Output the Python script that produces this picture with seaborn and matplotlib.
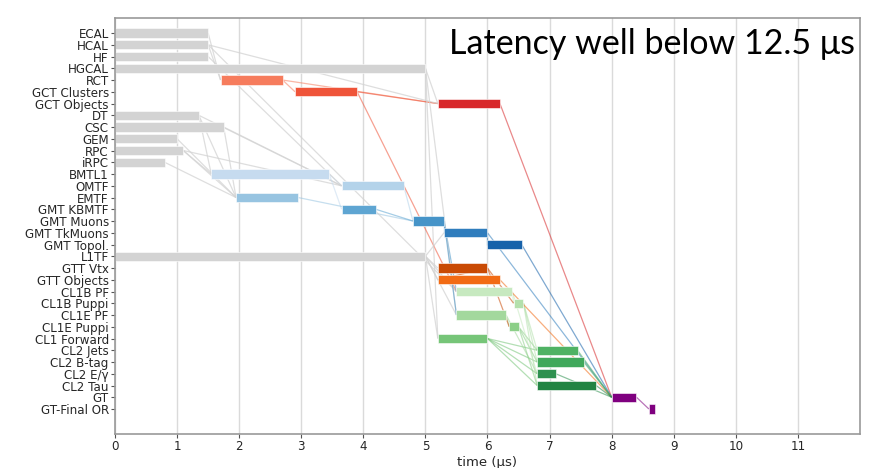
import matplotlib
matplotlib.use("Agg")
import matplotlib.pyplot as plt
import seaborn as sns

# Trigger processing stages (top to bottom) with start/end times in microseconds
stages = ["ECAL", "HCAL", "HF", "HGCAL", "RCT", "GCT Clusters", "GCT Objects",
          "DT", "CSC", "GEM", "RPC", "iRPC", "BMTL1", "OMTF", "EMTF",
          "GMT KBMTF", "GMT Muons", "GMT TkMuons", "GMT Topol.", "L1TF",
          "GTT Vtx", "GTT Objects", "CL1B PF", "CL1B Puppi", "CL1E PF",
          "CL1E Puppi", "CL1 Forward", "CL2 Jets", "CL2 B-tag", "CL2 E/γ",
          "CL2 Tau", "GT", "GT-Final OR"]
t_start = [0, 0, 0, 0, 1.7, 2.9, 5.2,
           0, 0, 0, 0, 0, 1.55, 3.65, 1.95,
           3.65, 4.8, 5.3, 6.0, 0,
           5.2, 5.2, 5.5, 6.42, 5.5,
           6.35, 5.2, 6.8, 6.8, 6.8,
           6.8, 8.0, 8.6]
t_end = [1.5, 1.5, 1.5, 5.0, 2.7, 3.9, 6.2,
         1.35, 1.75, 1.0, 1.1, 0.8, 3.45, 4.65, 2.95,
         4.2, 5.3, 6.0, 6.55, 5.0,
         6.0, 6.2, 6.4, 6.58, 6.3,
         6.5, 6.0, 7.45, 7.55, 7.1,
         7.75, 8.4, 8.7]
colors = ["#d3d3d3", "#d3d3d3", "#d3d3d3", "#d3d3d3", "#f67c5d", "#ef5439", "#d8282a",
          "#d3d3d3", "#d3d3d3", "#d3d3d3", "#d3d3d3", "#d3d3d3", "#c6dbef", "#b4d3ea", "#97c4e1",
          "#5ea5d2", "#4694c8", "#2f7dbd", "#1662aa", "#d3d3d3",
          "#c94a04", "#f26b14", "#c7e9c0", "#b3e0ac", "#a3d89d",
          "#8ccf88", "#76c578", "#4fb264", "#40a85b", "#2e9150",
          "#228443", "#7f007f", "#7f007f"]

# Data flow between stages: each stage and the stages feeding it
inputs = {
    "RCT": ["ECAL", "HCAL"],
    "GCT Clusters": ["RCT"],
    "GCT Objects": ["RCT", "GCT Clusters", "HCAL", "HGCAL"],
    "BMTL1": ["DT", "RPC"],
    "OMTF": ["DT", "CSC", "RPC", "BMTL1", "HF"],
    "EMTF": ["CSC", "GEM", "RPC", "iRPC", "DT"],
    "GMT KBMTF": ["BMTL1"],
    "GMT Muons": ["OMTF", "EMTF", "GMT KBMTF"],
    "GMT TkMuons": ["GMT Muons", "L1TF"],
    "GMT Topol.": ["GMT TkMuons"],
    "GTT Vtx": ["L1TF"],
    "GTT Objects": ["L1TF", "GTT Vtx"],
    "CL1B PF": ["HCAL", "GCT Clusters", "L1TF", "GMT Muons"],
    "CL1B Puppi": ["CL1B PF", "GTT Vtx"],
    "CL1E PF": ["HGCAL", "L1TF", "GMT Muons"],
    "CL1E Puppi": ["CL1E PF", "GTT Vtx"],
    "CL1 Forward": ["HGCAL", "L1TF"],
    "CL2 Jets": ["CL1B Puppi", "CL1E Puppi", "CL1 Forward"],
    "CL2 B-tag": ["CL1B Puppi", "CL1E Puppi", "CL1 Forward"],
    "CL2 E/γ": ["CL1B PF", "CL1E PF", "CL1 Forward"],
    "CL2 Tau": ["CL1B Puppi", "CL1E Puppi", "CL1 Forward"],
    "GT": ["GCT Objects", "GMT TkMuons", "GMT Topol.", "GTT Objects",
           "CL2 Jets", "CL2 B-tag", "CL2 E/γ", "CL2 Tau"],
    "GT-Final OR": ["GT"],
}

x_ticks = list(range(0, 12))

sns.set_theme(style="whitegrid")
plt.rcParams["font.family"] = ["DejaVu Sans"]

fig = plt.figure(figsize=(8.76, 4.68), dpi=100)
ax = fig.add_axes([0.1313, 0.0726, 0.8504, 0.8889])

row = {name: i for i, name in enumerate(stages)}

# connection lines: from the end of each input to the start of its consumer
for dst, srcs in inputs.items():
    j = row[dst]
    for src in srcs:
        i = row[src]
        grey = colors[i] == "#d3d3d3"
        ax.plot([t_end[i], t_start[j]], [i, j], color=colors[i],
                alpha=0.75 if grey else 0.55,
                lw=0.9, zorder=1, solid_capstyle="butt")

widths = [e - s for s, e in zip(t_start, t_end)]
ax.barh(range(len(stages)), widths, left=t_start, height=0.78,
        color=colors, edgecolor="white", linewidth=0.4, zorder=2)

ax.set_yticks(range(len(stages)))
ax.set_yticklabels(stages, fontsize=8.6)
ax.set_ylim(34.13, -1.28)
ax.set_xlim(0, 12)
ax.set_xticks(x_ticks)
ax.set_xticklabels([str(t) for t in x_ticks], fontsize=8.6)
ax.set_xlabel("time (μs)", fontsize=9.5, labelpad=2)

ax.grid(axis="y", visible=False)
ax.grid(axis="x", color="#dadada", lw=1.0)
ax.set_axisbelow(True)
for s in ax.spines.values():
    s.set_color("#999999")
    s.set_linewidth(1.2)
ax.tick_params(axis="both", which="both", length=3, width=0.8,
               color="#555555", pad=1.5, left=True, bottom=True)

fig.text(0.976, 0.905, "Latency well below 12.5 μs", ha="right", va="center",
         fontsize=24.5, color="black", family=["Lato", "DejaVu Sans"])

fig.savefig("out.png", dpi=100)
